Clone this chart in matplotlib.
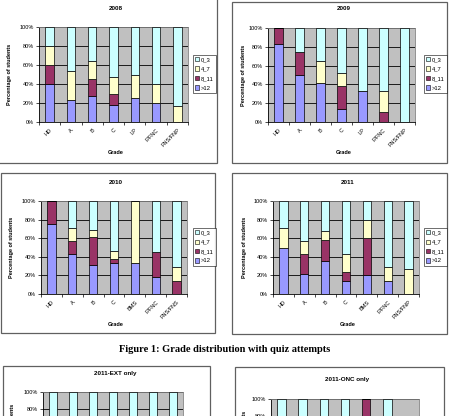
import matplotlib.pyplot as plt
from matplotlib.patches import Rectangle, Patch

plt.rcParams['font.family'] = ['Liberation Sans', 'DejaVu Sans']

W, H = 450, 416

series = ['>12', '8_11', '4_7', '0_3']
colors = ['#9999FF', '#993366', '#FFFFCC', '#CCFFFF']

# 2008
grades_08 = ['HD', 'A', 'B', 'C', 'LP', 'F/FNC', 'FNS/FNP']
gt12_08 = [40, 23.1, 27.3, 17.6, 25, 20, 0]
a8_11_08 = [20, 0, 18.2, 11.8, 0, 0, 0]
a4_7_08 = [20, 30.7, 18.2, 17.6, 25, 20, 16.7]
a0_3_08 = [20, 46.2, 36.3, 53.0, 50, 60, 83.3]

# 2009
grades_09 = ['HD', 'A', 'B', 'C', 'LP', 'F/FNC', 'FNS/FNP']
gt12_09 = [83.3, 50, 41.2, 14.3, 33.3, 0, 0]
a8_11_09 = [16.7, 25, 0, 23.8, 0, 11.1, 0]
a4_7_09 = [0, 0, 23.5, 14.3, 0, 22.2, 0]
a0_3_09 = [0, 25, 35.3, 47.6, 66.7, 66.7, 100]

# 2010
grades_10 = ['HD', 'A', 'B', 'C', 'BMS', 'F/FNC', 'FNS/FNS']
gt12_10 = [75, 42.9, 30.8, 33.3, 33.3, 18.2, 0]
a8_11_10 = [25, 14.2, 30.7, 4.2, 0, 27.3, 14.3]
a4_7_10 = [0, 14.3, 7.7, 8.3, 66.7, 0, 14.3]
a0_3_10 = [0, 28.6, 30.8, 54.2, 0, 54.5, 71.4]

# 2011
grades_11 = ['HD', 'A', 'B', 'C', 'BMS', 'F/FNC', 'FNS/FNP']
gt12_11 = [50, 21.4, 35.5, 14.3, 20, 14.3, 0]
a8_11_11 = [0, 21.5, 22.5, 9.5, 40, 0, 0]
a4_7_11 = [21, 14.2, 9.5, 19.1, 20, 14.3, 27]
a0_3_11 = [29, 42.9, 32.5, 57.1, 20, 71.4, 73]

# 2011 split (only the top of these panels is visible)
ext_0_3 = [100, 100, 100, 100, 100, 100, 100]
onc_8_11 = [0, 0, 0, 0, 100, 0, 0]
onc_0_3 = [100, 100, 100, 100, 0, 100, 0]
zeros = [0] * 7

fig = plt.figure(figsize=(W / 100, H / 100), dpi=100)
fig.patch.set_facecolor('white')


def fx(x):
    return x / W


def fy(y):
    return 1 - y / H


def frame(x0, x1, y0, y1):
    fig.patches.append(Rectangle((fx(x0), fy(y1)), fx(x1 - x0), (y1 - y0) / H,
                                 transform=fig.transFigure, fill=False,
                                 edgecolor='#606060', lw=0.9))


def panel(px, title, cats, data, legend_px=None, ylab_x=None, grade_y=None,
          cut=False):
    x0, x1, y0, y1 = px
    ax = fig.add_axes([fx(x0), fy(y1), fx(x1 - x0), (y1 - y0) / H])
    ax.set_facecolor('#C0C0C0')
    pos = range(len(cats))
    bottom = [0] * len(cats)
    for vals, c, name in zip(data, colors, series):
        ax.bar(pos, vals, 0.4, bottom=bottom, color=c, edgecolor='black',
               linewidth=0.5, zorder=3, label=name)
        bottom = [b + v for b, v in zip(bottom, vals)]
    ax.set_xlim(-0.5, len(cats) - 0.5)
    ax.set_ylim(0, 100)
    ax.yaxis.grid(True, color='black', lw=0.6, zorder=0)
    ax.set_axisbelow(True)
    if cut:
        # lower part of these panels falls below the page edge
        ax.set_yticks([80, 100])
        ax.set_yticklabels(['80%', '100%'], fontsize=4)
        for y in [20, 40, 60]:
            ax.axhline(y, color='black', lw=0.6, zorder=0)
        ax.set_xticks([])
    else:
        ax.set_yticks([0, 20, 40, 60, 80, 100])
        ax.set_yticklabels(['0%', '20%', '40%', '60%', '80%', '100%'],
                           fontsize=4)
        ax.set_xticks(list(pos))
        ax.set_xticklabels(cats, fontsize=4, rotation=45, ha='right',
                           rotation_mode='anchor')
        ax.set_xticks([i - 0.5 for i in range(len(cats) + 1)], minor=True)
        ax.tick_params(axis='x', which='major', length=0, pad=4)
        ax.tick_params(axis='x', which='minor', length=2, width=0.5)
    ax.tick_params(axis='y', length=2, width=0.5, pad=1.5)
    for s in ['top', 'right']:
        ax.spines[s].set_color('#808080')
        ax.spines[s].set_linewidth(0.6)
    for s in ['left', 'bottom']:
        ax.spines[s].set_color('black')
        ax.spines[s].set_linewidth(0.6)
    fig.text(fx((x0 + x1) / 2 + 2), fy(y0 - 19), title, fontsize=4.5,
             fontweight='bold', ha='center', va='center')
    if cut:
        fig.text(fx(ylab_x), fy(y0 + 12), 'Percentage of students',
                 fontsize=4, fontweight='bold', rotation=90, ha='center',
                 va='top')
    else:
        fig.text(fx(ylab_x), fy((y0 + y1) / 2), 'Percentage of students',
                 fontsize=4, fontweight='bold', rotation=90, ha='center',
                 va='center')
    if grade_y is not None:
        fig.text(fx((x0 + x1) / 2 + 2), fy(grade_y), 'Grade', fontsize=4,
                 fontweight='bold', ha='center', va='center')
    if legend_px is not None:
        handles = [Patch(facecolor=c, edgecolor='black', lw=0.4, label=n)
                   for c, n in zip(colors, series)][::-1]
        leg = fig.legend(handles=handles, loc='upper left',
                         bbox_to_anchor=(fx(legend_px[0]), fy(legend_px[1])),
                         bbox_transform=fig.transFigure, fontsize=4.2,
                         frameon=True, fancybox=False, borderpad=0.35,
                         handlelength=0.7, handleheight=0.7,
                         handletextpad=0.3, labelspacing=0.75, borderaxespad=0)
        leg.get_frame().set_edgecolor('black')
        leg.get_frame().set_linewidth(0.5)
    return ax


frame(-5, 217, -5, 163)
frame(232, 447, 2, 163)
frame(1, 215, 173, 333)
frame(232, 447, 173, 334)
frame(3, 210, 366, 520)
frame(235, 444, 367, 520)

panel((39, 188, 27, 122), '2008', grades_08,
      [gt12_08, a8_11_08, a4_7_08, a0_3_08], (193, 55), 10, 152)
panel((268, 415, 28, 122), '2009', grades_09,
      [gt12_09, a8_11_09, a4_7_09, a0_3_09], (424, 55), 243, 152)
panel((41, 187, 201, 294), '2010', grades_10,
      [gt12_10, a8_11_10, a4_7_10, a0_3_10], (193, 228), 12, 324)
panel((273, 419, 201, 294), '2011', grades_11,
      [gt12_11, a8_11_11, a4_7_11, a0_3_11], (424, 228), 245, 324)
panel((43, 183, 392, 477), '2011-EXT only', grades_11,
      [zeros, zeros, zeros, ext_0_3], None, 13, None, cut=True)
panel((271, 419, 399, 484), '2011-ONC only', grades_11,
      [zeros, onc_8_11, zeros, onc_0_3], None, 245, None, cut=True)

fig.text(0.5, fy(350), 'Figure 1: Grade distribution with quiz attempts',
         family=['Liberation Serif', 'DejaVu Serif'], fontweight='bold',
         fontsize=7.5, ha='center', va='center')

fig.savefig('out.png', dpi=100)
